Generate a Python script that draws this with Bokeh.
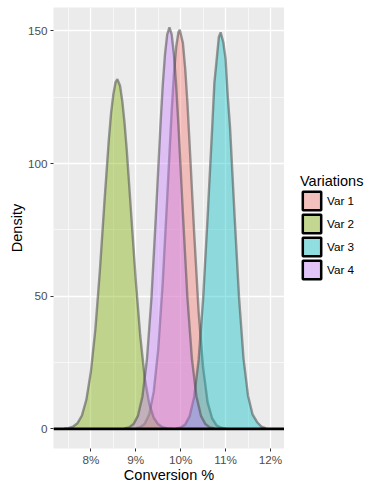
from bokeh.plotting import figure
from bokeh.layouts import row
from bokeh.models import FixedTicker, Span, Legend, LegendItem, Range1d
from bokeh.embed import file_html
from bokeh.resources import INLINE

# ---- data ----
variations = ["Var 1", "Var 2", "Var 3", "Var 4"]
fill_colors = ["#F8766D", "#7CAE00", "#00BFC4", "#C77CFF"]
key_colors = ["#F4C0BD", "#C3D791", "#91DEE0", "#E1C3F7"]

var1_x = [9.0, 9.1, 9.2, 9.3, 9.4, 9.5, 9.6, 9.7, 9.8, 9.85, 9.9, 9.95, 9.98,
          10.05, 10.1, 10.15, 10.2, 10.3, 10.4, 10.5, 10.6, 10.7, 10.8, 10.9, 11.0]
var1_y = [0.2, 0.6, 1.9, 5.5, 14, 30, 55, 87, 120, 133.7, 144, 149.5, 150.4,
          145.4, 136, 123, 107, 74, 44, 23, 10, 4, 1.3, 0.4, 0.1]

var2_x = [7.4, 7.5, 7.6, 7.7, 7.8, 7.9, 8.0, 8.1, 8.2, 8.3, 8.4, 8.45, 8.5,
          8.55, 8.59, 8.65, 8.7, 8.75, 8.8, 8.9, 9.0, 9.1, 9.2, 9.3, 9.4,
          9.5, 9.6, 9.7, 9.8]
var2_y = [0.05, 0.25, 0.8, 2.1, 5, 11, 21.5, 37.5, 59.5, 85, 109, 119, 126,
          130.7, 131.8, 129.3, 123.5, 115.3, 105, 80.5, 56, 35, 19, 9.5, 4.2,
          1.7, 0.6, 0.2, 0.05]

var3_x = [9.9, 10.0, 10.1, 10.2, 10.3, 10.4, 10.5, 10.6, 10.7, 10.75, 10.8,
          10.85, 10.89, 10.95, 11.0, 11.05, 11.1, 11.2, 11.3, 11.4, 11.5,
          11.6, 11.7, 11.8, 11.9]
var3_y = [0.1, 0.5, 1.6, 4.8, 12, 26, 49, 80, 113, 130.4, 139,
          147.7, 149.4, 145.7, 139.5, 125, 113.5, 80.5, 49.5, 26.5, 12.5,
          5.5, 2.6, 0.8, 0.15]

var4_x = [8.75, 8.85, 8.95, 9.05, 9.15, 9.25, 9.35, 9.45, 9.55, 9.6, 9.65,
          9.7, 9.75, 9.8, 9.85, 9.9, 9.95, 10.05, 10.15, 10.25, 10.35, 10.45,
          10.55, 10.65, 10.75]
var4_y = [0.15, 0.55, 1.8, 5, 12.3, 26.5, 49.5, 81, 114.5, 129.3, 141,
          148.7, 151.3, 148.7, 141, 129.3, 114.5, 81, 49.5, 26.5, 12.3, 5,
          1.8, 0.55, 0.15]

series_x = [var1_x, var2_x, var3_x, var4_x]
series_y = [var1_y, var2_y, var3_y, var4_y]

x_ticks = [8, 9, 10, 11, 12]
x_tick_labels = ["8%", "9%", "10%", "11%", "12%"]
x_minor = [7.5, 8.5, 9.5, 10.5, 11.5]
y_ticks = [0, 50, 100, 150]
y_minor = [25, 75, 125]

FONT = "Liberation Sans"

p = figure(frame_width=231, frame_height=441, output_backend="svg",
           toolbar_location=None,
           x_range=Range1d(7.168, 12.312), y_range=Range1d(-7.4, 158.8),
           min_border_left=53, min_border_right=0, min_border_top=7,
           min_border_bottom=32)
p.background_fill_color = "#EBEBEB"
p.border_fill_color = "white"
p.outline_line_color = None

for xs, ys, col in zip(series_x, series_y, fill_colors):
    px = [xs[0]] + list(xs) + [xs[-1]]
    py = [0] + list(ys) + [0]
    p.patch(px, py, fill_color=col, fill_alpha=0.4, line_color=None)
    p.line(xs, ys, line_color="#4d4d4d", line_alpha=0.55, line_width=2.4)

p.add_layout(Span(location=0, dimension="width", line_color="black", line_width=2.6))

# axes
p.xaxis.ticker = FixedTicker(ticks=x_ticks, minor_ticks=x_minor)
p.yaxis.ticker = FixedTicker(ticks=y_ticks, minor_ticks=y_minor)
p.xaxis.major_label_overrides = {t: l for t, l in zip(x_ticks, x_tick_labels)}
p.xaxis.axis_label = "Conversion %"
p.yaxis.axis_label = "Density"
for ax in (p.xaxis, p.yaxis):
    ax.axis_line_color = None
    ax.minor_tick_line_color = None
    ax.major_tick_line_color = "#333333"
    ax.major_tick_out = 3
    ax.major_tick_in = 0
    ax.major_label_text_font = FONT
    ax.major_label_text_font_size = "11.7px"
    ax.major_label_text_color = "#4D4D4D"
    ax.axis_label_text_font = FONT
    ax.axis_label_text_font_size = "14.5px"
    ax.axis_label_text_font_style = "normal"
    ax.axis_label_text_color = "black"
p.xaxis.major_label_standoff = 0
p.yaxis.major_label_standoff = 2
p.xaxis.axis_label_standoff = -2
p.yaxis.axis_label_standoff = 0

p.grid.grid_line_color = "white"
p.grid.grid_line_width = 1.3
p.grid.minor_grid_line_color = "white"
p.grid.minor_grid_line_width = 0.6

# ---- legend panel (separate figure so nothing is clipped) ----
lf = figure(width=90, height=480, output_backend="svg", toolbar_location=None,
            x_range=Range1d(0, 1), y_range=Range1d(0, 1),
            x_axis_type=None, y_axis_type=None,
            min_border_left=0, min_border_right=0, min_border_top=0,
            min_border_bottom=0)
lf.outline_line_color = None
lf.background_fill_color = "white"
lf.border_fill_color = "white"
lf.grid.visible = False

items = []
for name, kc in zip(variations, key_colors):
    r = lf.quad(left=[0], right=[0], top=[0], bottom=[0], fill_color=kc,
                line_color="black", line_width=2.5)
    items.append(LegendItem(label=name, renderers=[r]))
legend = Legend(items=items, title="Variations", location=(16, 162))
legend.title_text_font = FONT
legend.title_text_font_size = "14.5px"
legend.title_text_font_style = "normal"
legend.title_text_color = "black"
legend.title_standoff = 0
legend.label_text_font = FONT
legend.label_text_font_size = "11.7px"
legend.label_text_color = "black"
legend.glyph_width = 23
legend.glyph_height = 23
legend.label_height = 23
legend.spacing = 0
legend.padding = 0
legend.margin = 0
legend.label_standoff = 4
legend.border_line_color = None
legend.background_fill_alpha = 0
lf.add_layout(legend, "center")

layout = row(p, lf)
open("out.html", "w").write(file_html(layout, INLINE))
